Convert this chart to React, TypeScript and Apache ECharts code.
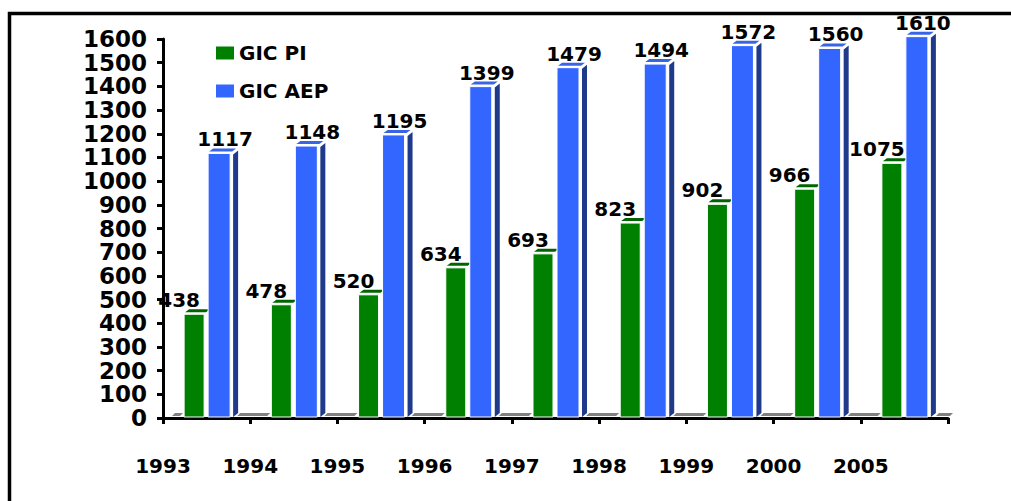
import React, { useEffect, useRef } from "react";
import * as echarts from "echarts";

const years = ["1993", "1994", "1995", "1996", "1997", "1998", "1999", "2000", "2005"];
const gicPI = [438, 478, 520, 634, 693, 823, 902, 966, 1075];
const gicAEP = [1117, 1148, 1195, 1399, 1479, 1494, 1572, 1560, 1610];
const yMin = 0;
const yMax = 1600;
const yStep = 100;

const FONT = "'DejaVu Sans', sans-serif";

function bar3D(front: string, top: string, side: string | null, offL: number, offR: number, labelDx: number) {
  return (params: any, api: any) => {
    const i = api.value(0);
    const v = api.value(1);
    const p = api.coord([i, v]);
    const p0 = api.coord([i, 0]);
    const cx = p[0];
    const y = p[1];
    const yb = p0[1] - 1;
    const x0 = cx + offL;
    const x1 = cx + offR;
    const children: any[] = [];
    if (side) {
      children.push({
        type: "polygon",
        shape: { points: [[x1 + 3, y + 1], [x1 + 8, y - 3], [x1 + 8, yb - 4], [x1 + 3, yb]] },
        style: { fill: side },
      });
    }
    children.push({
      type: "polygon",
      shape: { points: [[x0 + 1, y - 2], [x0 + 5, y - 5], [x1 + 6, y - 5], [x1 + 2, y - 2]] },
      style: { fill: top },
    });
    children.push({
      type: "rect",
      shape: { x: x0, y: y, width: x1 - x0, height: yb - y },
      style: { fill: front, stroke: "#ffffff", lineWidth: 1 },
    });
    children.push({
      type: "text",
      z2: 50,
      style: {
        text: String(v),
        x: (x0 + x1) / 2 + labelDx,
        y: y - 4,
        textAlign: "center",
        textVerticalAlign: "bottom",
        align: "center",
        verticalAlign: "bottom",
        font: `bold 20px ${FONT}`,
        fill: "#000000",
      },
    });
    return { type: "group", children };
  };
}

function floorRender(params: any, api: any) {
  const i = api.value(0);
  const p = api.coord([i, 0]);
  const bw = api.size([1, 0])[0];
  const b = p[0] - bw / 2;
  const yb = p[1] - 2;
  const strips: number[][] = [];
  strips.push([i === 0 ? b + 9 : b - 13, b + 17]);
  if (i === years.length - 1) {
    const b2 = p[0] + bw / 2;
    strips.push([b2 - 12, b2 + 2]);
  }
  return {
    type: "group",
    children: strips.map(([a, c]) => ({
      type: "polygon",
      shape: { points: [[a, yb], [a + 3, yb - 3], [c + 3, yb - 3], [c, yb]] },
      style: { fill: "#808080" },
    })),
  };
}

export default function App() {
  const ref = useRef<HTMLDivElement>(null);
  useEffect(() => {
    document.body.style.margin = "0";
    const chart = echarts.init(ref.current!, null, { renderer: "svg" });
    chart.setOption({
      animation: false,
      backgroundColor: "#ffffff",
      grid: { left: 163, right: 63, top: 39, bottom: 83 },
      legend: {
        orient: "vertical",
        left: 211,
        top: 38,
        itemWidth: 18,
        itemHeight: 13,
        itemGap: 18,
        icon: "rect",
        textStyle: { fontFamily: FONT, fontWeight: "bold", fontSize: 20, color: "#000000" },
        data: [
          { name: "GIC PI", itemStyle: { color: "#008000" } },
          { name: "GIC AEP", itemStyle: { color: "#3366FF" } },
        ],
      },
      xAxis: [
        {
          type: "category",
          data: years,
          boundaryGap: true,
          axisLine: { lineStyle: { color: "#000000", width: 3 } },
          axisTick: { show: true, length: 6, lineStyle: { color: "#000000", width: 3 } },
          axisLabel: { show: false },
          splitLine: { show: false },
        },
        {
          type: "value",
          position: "bottom",
          min: 0,
          max: years.length,
          interval: 1,
          axisLine: { show: false },
          axisTick: { show: false },
          splitLine: { show: false },
          axisLabel: {
            margin: 38,
            fontFamily: FONT,
            fontWeight: "bold",
            fontSize: 20,
            color: "#000000",
            formatter: (v: number) => years[v] ?? "",
          },
        },
      ],
      yAxis: {
        type: "value",
        min: yMin,
        max: yMax,
        interval: yStep,
        axisLine: { show: true, lineStyle: { color: "#000000", width: 3 } },
        axisTick: { show: true, length: 6, lineStyle: { color: "#000000", width: 3 } },
        splitLine: { show: false },
        axisLabel: {
          margin: 16,
          fontFamily: FONT,
          fontWeight: "bold",
          fontSize: 23,
          lineHeight: 22,
          color: "#000000",
          showMinLabel: true,
          showMaxLabel: true,
          hideOverlap: false,
          formatter: (v: number) => String(v),
        },
      },
      series: [
        {
          name: "floor",
          type: "custom",
          renderItem: floorRender,
          data: years.map((_, i) => [i, 0]),
          encode: { x: 0, y: 1 },
          silent: true,
          z: 1,
        },
        {
          name: "GIC PI",
          type: "custom",
          renderItem: bar3D("#008000", "#006400", null, -22.5, -2.5, -15),
          data: gicPI.map((v, i) => [i, v]),
          encode: { x: 0, y: 1 },
          itemStyle: { color: "#008000" },
          z: 2,
        },
        {
          name: "GIC AEP",
          type: "custom",
          renderItem: bar3D("#3366FF", "#3a64e8", "#1F3A8A", 1.5, 23.5, 6),
          data: gicAEP.map((v, i) => [i, v]),
          encode: { x: 0, y: 1 },
          itemStyle: { color: "#3366FF" },
          z: 3,
        },
      ],
      graphic: [
        {
          type: "rect",
          silent: true,
          shape: { x: 9.5, y: 13.5, width: 1300, height: 800 },
          style: { fill: "none", stroke: "#000000", lineWidth: 3.5 },
          z: 100,
        },
      ],
    });
    return () => chart.dispose();
  }, []);
  return (
    <div
      ref={ref}
      style={{ position: "fixed", left: 0, top: 0, width: 1011, height: 501 }}
    />
  );
}
